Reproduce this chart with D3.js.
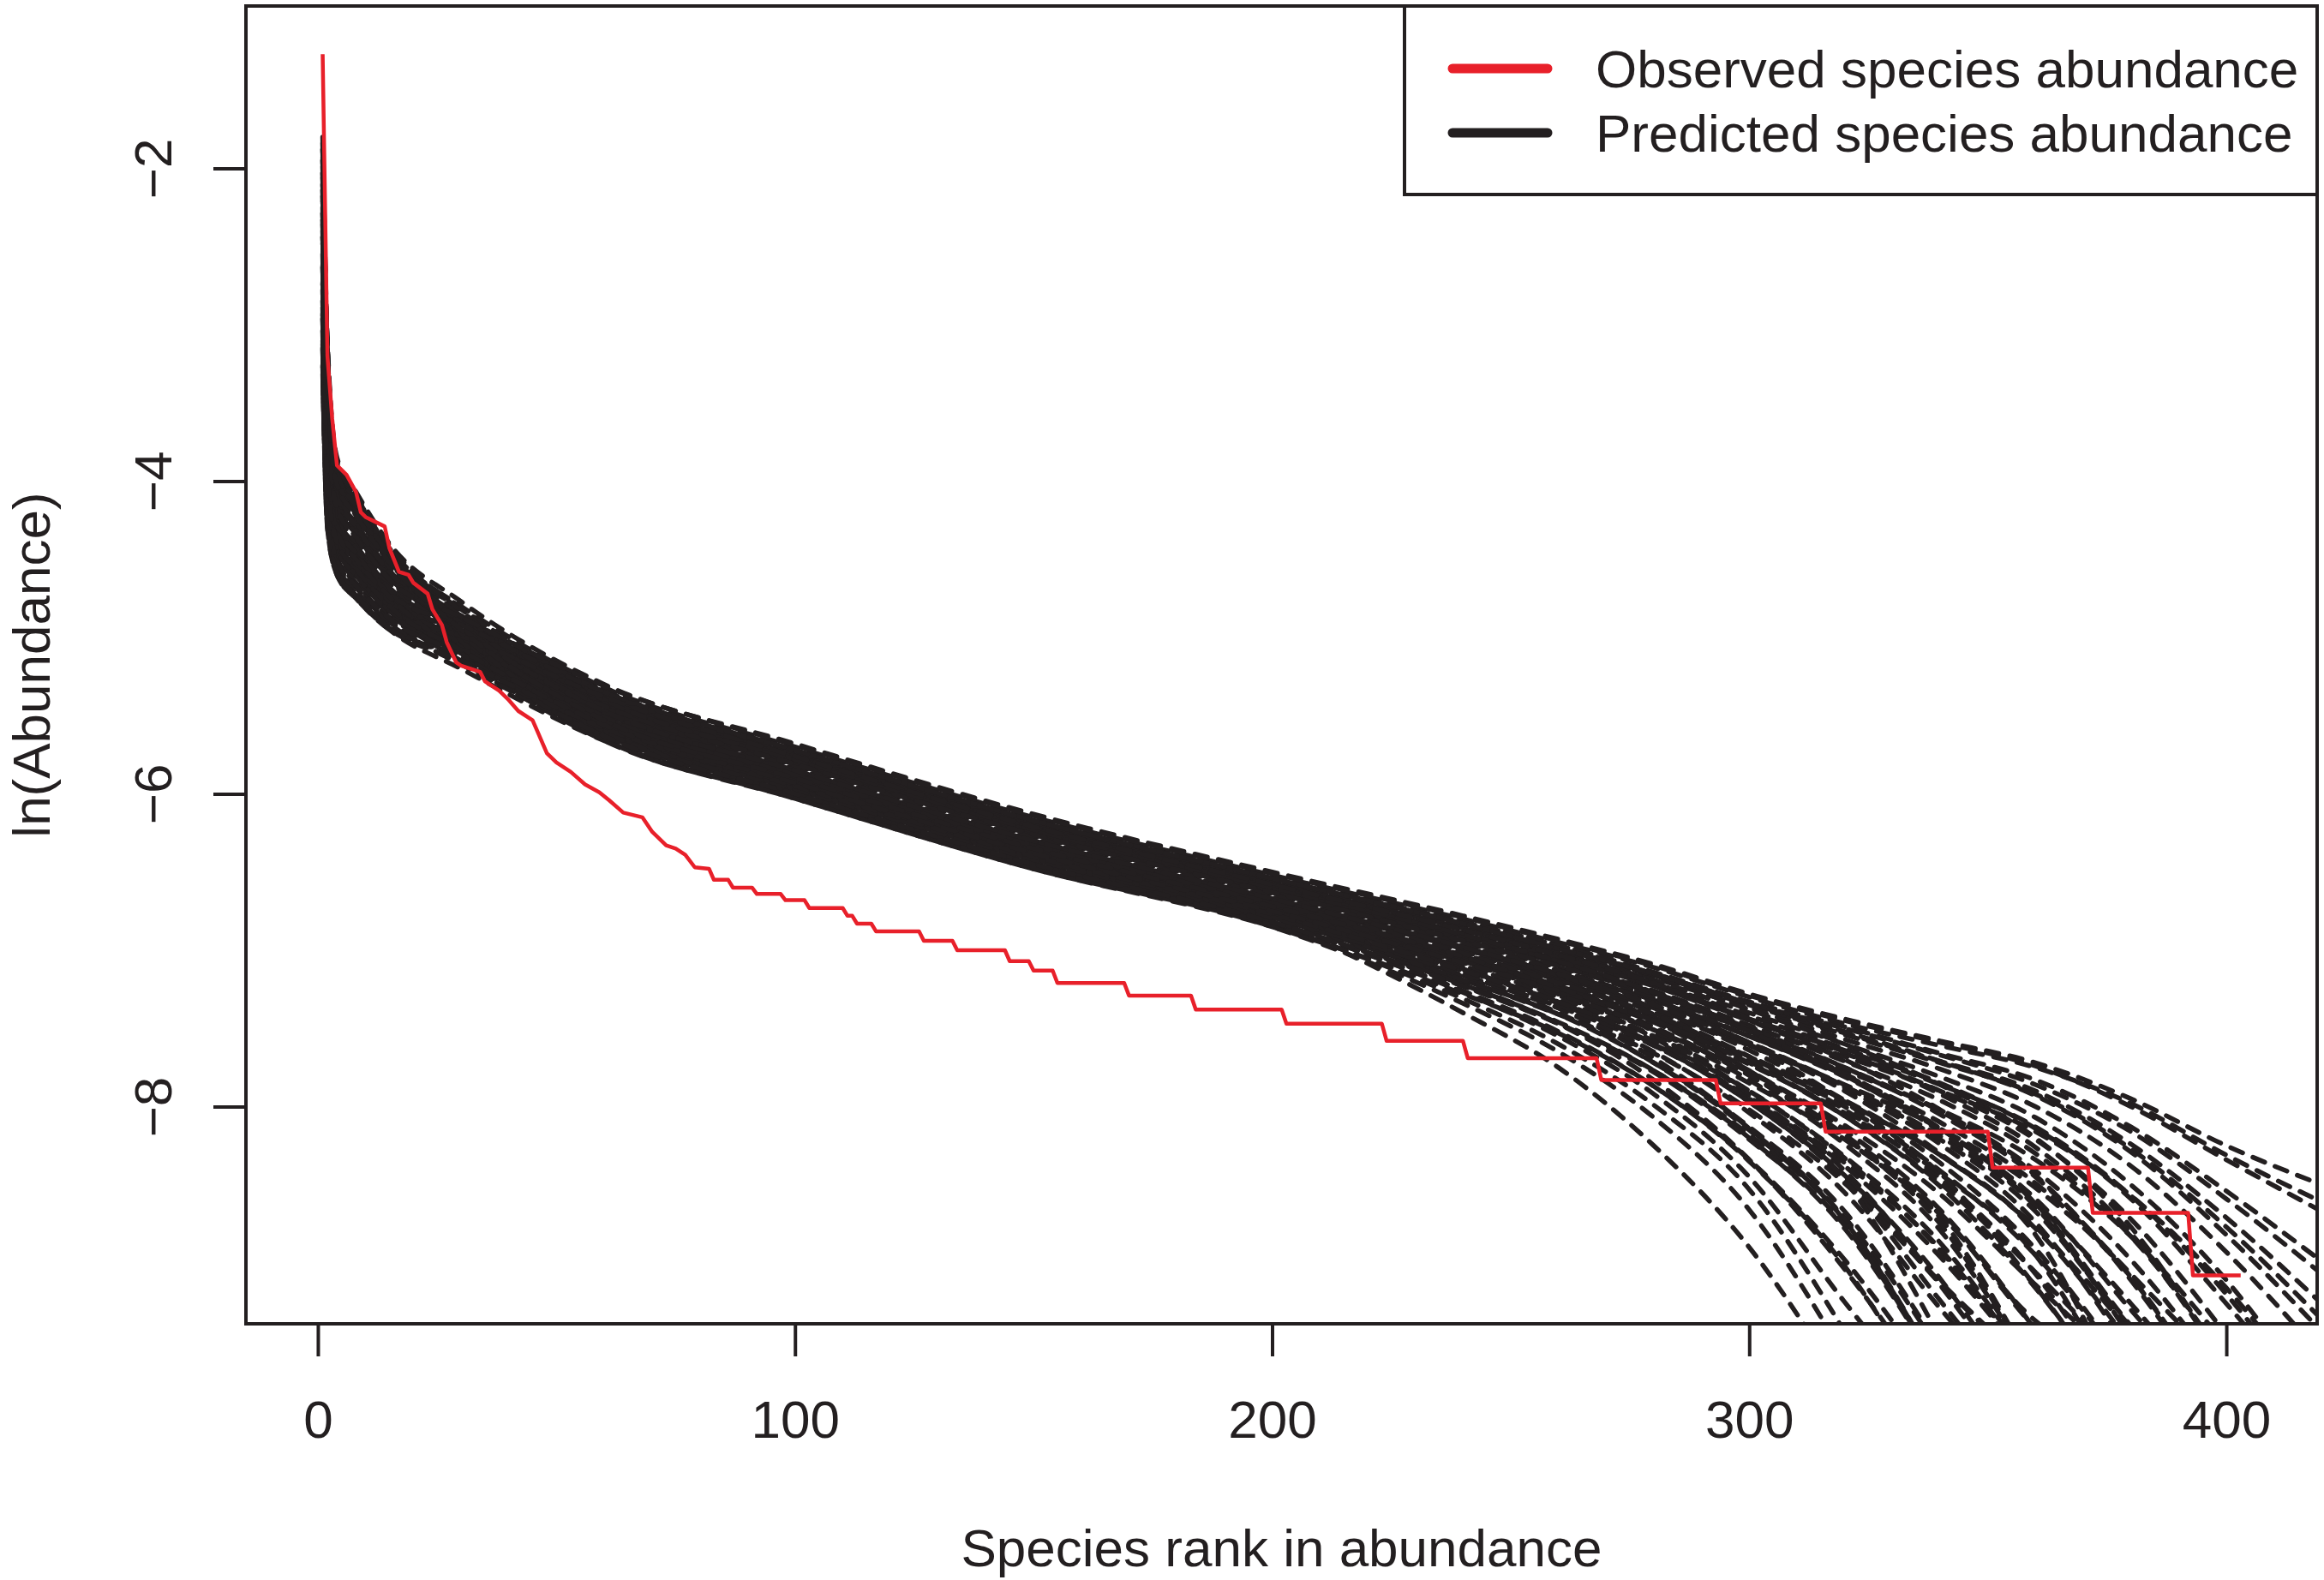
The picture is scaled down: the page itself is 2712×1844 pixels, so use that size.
<!DOCTYPE html>
<html>
<head>
<meta charset="utf-8">
<script src="https://cdn.jsdelivr.net/npm/d3@7"></script>
<style>
    body { margin: 0; background: #fff; }
    text { font-family: "Liberation Sans", Arial, Helvetica, sans-serif; fill: #231f20; }
</style>
</head>
<body>
<div id="chart"></div>
<script>
// ---- data ----
var xTicks = [0, 100, 200, 300, 400];
var yTicks = [-2, -4, -6, -8];
var legendLabels = ["Observed species abundance", "Predicted species abundance"];
var xTitle = "Species rank in abundance";
var yTitle = "ln(Abundance)";

// observed curve (red), vertices of the rank / ln(abundance) line
var obsRank = [1, 2, 3, 4, 5, 6, 8, 9, 10, 14, 15, 17, 19, 20, 23, 24, 26, 27, 29, 30,
    34, 35, 38, 40, 42, 45, 46, 48, 50, 53, 56, 59, 61, 64, 68, 70, 73, 75, 77, 79,
    82, 83, 86, 87, 91, 92, 97, 98, 102, 103, 110, 111, 112, 113, 116, 117, 126, 127, 133, 134,
    144, 145, 149, 150, 154, 155, 169, 170, 183, 184, 202, 203, 223, 224, 240, 241, 268, 269, 293, 294,
    315, 316, 350, 351, 371, 372, 392, 393, 403];
var obsLnAbund = [-1.27, -3.2, -3.6, -3.9, -3.93, -3.96, -4.07, -4.2, -4.23, -4.29, -4.43, -4.58, -4.6, -4.65, -4.72, -4.82, -4.92, -5.03, -5.16, -5.18,
    -5.22, -5.28, -5.34, -5.4, -5.47, -5.53, -5.6, -5.74, -5.8, -5.86, -5.94, -5.99, -6.04, -6.12, -6.15, -6.24, -6.33, -6.35, -6.39, -6.47,
    -6.48, -6.55, -6.55, -6.6, -6.6, -6.64, -6.64, -6.68, -6.68, -6.73, -6.73, -6.78, -6.78, -6.83, -6.83, -6.88, -6.88, -6.94, -6.94, -7.0,
    -7.0, -7.07, -7.07, -7.13, -7.13, -7.21, -7.21, -7.29, -7.29, -7.38, -7.38, -7.47, -7.47, -7.58, -7.58, -7.69, -7.69, -7.83, -7.83, -7.98,
    -7.98, -8.16, -8.16, -8.39, -8.39, -8.68, -8.68, -9.08, -9.08];

// predicted runs (black dashed), each sampled at simRanks; null = run has ended
var simRanks = [1, 2, 4, 8, 15, 30, 60, 100, 150, 200, 240, 260, 280, 300, 320, 340, 360, 380, 400, 420];
var simCurves = [
    [-1.80, -3.10, -3.85, -4.07, -4.40, -4.77, -5.30, -5.68, -6.13, -6.50, -6.78, -6.93, -7.09, -7.28, -7.44, -7.58, -7.72, -7.95, -8.25, -8.50],
    [-1.95, -3.22, -3.93, -4.14, -4.46, -4.80, -5.32, -5.70, -6.15, -6.52, -6.80, -6.95, -7.11, -7.30, -7.47, -7.61, -7.75, -7.98, -8.31, -8.61],
    [-2.25, -3.46, -4.08, -4.27, -4.57, -4.86, -5.34, -5.72, -6.17, -6.54, -6.82, -6.97, -7.14, -7.33, -7.49, -7.66, -7.83, -8.13, -8.54, -8.99],
    [-1.88, -3.16, -3.89, -4.10, -4.43, -4.81, -5.35, -5.73, -6.18, -6.55, -6.84, -7.00, -7.16, -7.35, -7.54, -7.72, -7.92, -8.27, -8.77, -9.36],
    [-2.55, -3.70, -4.23, -4.41, -4.68, -4.92, -5.37, -5.75, -6.20, -6.57, -6.86, -7.02, -7.18, -7.37, -7.57, -7.76, -8.00, -8.38, -8.93, -9.59],
    [-2.10, -3.34, -4.00, -4.21, -4.51, -4.87, -5.39, -5.77, -6.22, -6.59, -6.89, -7.04, -7.21, -7.42, -7.63, -7.85, -8.14, -8.59, -9.26, -10.0],
    [-2.85, -3.94, -4.38, -4.55, -4.79, -4.99, -5.41, -5.79, -6.24, -6.61, -6.91, -7.06, -7.23, -7.44, -7.64, -7.86, -8.13, -8.57, -9.20, -10.0],
    [-2.40, -3.58, -4.15, -4.34, -4.62, -4.88, -5.34, -5.72, -6.17, -6.54, -6.82, -6.97, -7.16, -7.38, -7.60, -7.86, -8.20, -8.77, -9.67, null],
    [-2.03, -3.28, -3.96, -4.17, -4.48, -4.88, -5.43, -5.80, -6.25, -6.62, -6.93, -7.08, -7.26, -7.48, -7.71, -7.96, -8.30, -8.83, -9.63, null],
    [-2.70, -3.82, -4.30, -4.48, -4.73, -4.99, -5.44, -5.82, -6.27, -6.64, -6.95, -7.11, -7.27, -7.49, -7.68, -7.90, -8.16, -8.57, -9.16, -9.93],
    [-3.15, -4.18, -4.53, -4.68, -4.90, -5.06, -5.46, -5.84, -6.29, -6.66, -6.97, -7.13, -7.32, -7.55, -7.80, -8.10, -8.49, -9.09, -10.0, null],
    [-2.18, -3.40, -4.04, -4.24, -4.54, -4.87, -5.37, -5.75, -6.20, -6.57, -6.86, -7.02, -7.21, -7.45, -7.70, -8.02, -8.44, -9.11, -10.0, null],
    [-3.00, -4.06, -4.45, -4.61, -4.84, -5.05, -5.48, -5.86, -6.31, -6.68, -6.99, -7.15, -7.32, -7.55, -7.77, -8.02, -8.34, -8.83, -9.53, null],
    [-2.33, -3.52, -4.11, -4.31, -4.59, -4.91, -5.41, -5.79, -6.24, -6.61, -6.91, -7.07, -7.28, -7.52, -7.79, -8.14, -8.62, -9.40, -10.0, null],
    [-2.48, -3.64, -4.19, -4.38, -4.65, -4.99, -5.50, -5.87, -6.32, -6.69, -7.01, -7.17, -7.37, -7.61, -7.87, -8.19, -8.62, -9.26, -10.0, null],
    [-3.30, -4.30, -4.60, -4.75, -4.95, -5.11, -5.52, -5.89, -6.34, -6.71, -7.03, -7.19, -7.39, -7.61, -7.86, -8.14, -8.52, -9.09, -9.99, null],
    [-2.63, -3.76, -4.26, -4.44, -4.70, -4.97, -5.44, -5.82, -6.27, -6.64, -6.95, -7.13, -7.33, -7.60, -7.90, -8.30, -8.82, -10.0, null, null],
    [-2.78, -3.88, -4.34, -4.51, -4.76, -5.05, -5.53, -5.91, -6.36, -6.73, -7.05, -7.23, -7.43, -7.68, -7.96, -8.31, -8.78, -9.52, null, null],
    [-1.95, -3.22, -3.93, -4.14, -4.46, -4.90, -5.48, -5.86, -6.31, -6.68, -6.99, -7.18, -7.40, -7.68, -8.02, -8.46, -9.07, -10.0, null, null],
    [-2.93, -4.00, -4.41, -4.58, -4.81, -5.08, -5.55, -5.93, -6.38, -6.75, -7.07, -7.25, -7.46, -7.73, -8.04, -8.43, -8.95, -10.0, null, null],
    [-3.08, -4.12, -4.49, -4.65, -4.87, -5.01, -5.39, -5.77, -6.22, -6.59, -6.90, -7.08, -7.31, -7.60, -7.97, -8.43, -9.15, -10.0, null, null],
    [-2.25, -3.46, -4.08, -4.27, -4.57, -4.96, -5.52, -5.89, -6.34, -6.71, -7.04, -7.24, -7.49, -7.80, -8.20, -8.71, -9.70, null, null, null],
    [-3.23, -4.24, -4.56, -4.72, -4.92, -5.14, -5.57, -5.94, -6.39, -6.76, -7.10, -7.29, -7.51, -7.78, -8.12, -8.56, -9.14, -9.70, null, null],
    [-2.55, -3.70, -4.23, -4.41, -4.68, -5.05, -5.59, -5.96, -6.41, -6.78, -7.13, -7.32, -7.55, -7.85, -8.21, -8.69, -9.37, -9.70, null, null],
    [-2.10, -3.34, -4.00, -4.21, -4.51, -4.91, -5.46, -5.84, -6.29, -6.66, -6.99, -7.19, -7.44, -7.77, -8.19, -8.75, -9.70, null, null, null],
    [-2.70, -3.82, -4.30, -4.48, -4.73, -5.08, -5.61, -5.98, -6.43, -6.80, -7.16, -7.36, -7.61, -7.94, -8.36, -8.91, -9.70, null, null, null],
    [-2.40, -3.58, -4.15, -4.34, -4.62, -5.01, -5.55, -5.93, -6.38, -6.75, -7.11, -7.33, -7.60, -7.97, -8.45, -9.13, -9.70, null, null, null],
    [-2.85, -3.94, -4.38, -4.55, -4.79, -5.11, -5.62, -6.00, -6.45, -6.82, -7.19, -7.41, -7.66, -8.02, -8.49, -9.12, -9.70, null, null, null],
    [-3.15, -4.18, -4.53, -4.68, -4.90, -5.08, -5.50, -5.87, -6.32, -6.69, -7.06, -7.28, -7.56, -7.96, -8.47, -9.24, -10.0, null, null, null],
    [-1.88, -3.16, -3.89, -4.10, -4.43, -4.86, -5.43, -5.80, -6.25, -6.62, -6.99, -7.21, -7.51, -7.93, -8.47, -9.48, null, null, null, null],
    [-3.00, -4.06, -4.45, -4.61, -4.84, -5.15, -5.64, -6.01, -6.46, -6.83, -7.23, -7.47, -7.77, -8.18, -8.71, -9.57, null, null, null, null],
    [-2.33, -3.52, -4.11, -4.31, -4.59, -4.99, -5.53, -5.91, -6.36, -6.73, -7.12, -7.37, -7.69, -8.14, -8.72, -9.70, null, null, null, null],
    [-3.30, -4.30, -4.60, -4.75, -4.95, -5.20, -5.66, -6.03, -6.48, -6.85, -7.28, -7.53, -7.87, -8.34, -8.98, -9.80, null, null, null, null],
    [-2.63, -3.76, -4.26, -4.44, -4.70, -5.06, -5.59, -5.96, -6.41, -6.78, -7.21, -7.47, -7.83, -8.34, -9.04, -9.90, null, null, null, null],
    [-2.78, -3.88, -4.34, -4.51, -4.76, -5.12, -5.66, -6.03, -6.48, -6.85, -7.34, -7.65, -8.07, -8.66, -9.60, null, null, null, null, null],
    [-3.23, -4.24, -4.56, -4.72, -4.92, -5.17, -5.62, -6.00, -6.45, -6.82, -7.40, -7.75, -8.25, -8.90, -9.80, null, null, null, null, null],
    [-2.03, -3.28, -3.96, -4.17, -4.48, -4.96, -5.57, -5.94, -6.39, -6.76, -7.17, -7.40, -7.72, -8.15, -8.73, -9.70, null, null, null, null],
    [-2.48, -3.64, -4.19, -4.38, -4.65, -4.90, -5.35, -5.73, -6.18, -6.55, -6.84, -7.00, -7.16, -7.35, -7.53, -7.71, -7.90, -8.24, -8.71, -9.26],
    [-2.93, -4.00, -4.41, -4.58, -4.81, -5.04, -5.48, -5.86, -6.31, -6.68, -7.04, -7.25, -7.52, -7.92, -8.41, -9.14, -10.0, null, null, null],
    [-2.18, -3.40, -4.04, -4.24, -4.54, -5.02, -5.62, -6.00, -6.45, -6.82, -7.27, -7.55, -7.92, -8.45, -9.25, -10.0, null, null, null, null],
    [-1.99, -3.25, -3.94, -4.16, -4.47, -4.82, -5.35, -5.72, -6.17, -6.54, -6.83, -6.99, -7.15, -7.34, -7.50, -7.67, -7.86, -8.16, -8.59, -9.07],
    [-2.36, -3.55, -4.13, -4.33, -4.61, -4.90, -5.38, -5.76, -6.21, -6.58, -6.87, -7.03, -7.19, -7.40, -7.60, -7.81, -8.07, -8.50, -9.11, -9.93],
    [-2.74, -3.85, -4.32, -4.50, -4.74, -4.96, -5.40, -5.78, -6.23, -6.60, -6.90, -7.05, -7.23, -7.45, -7.66, -7.90, -8.21, -8.72, -9.46, null],
    [-3.11, -4.15, -4.51, -4.67, -4.88, -5.03, -5.42, -5.79, -6.24, -6.61, -6.92, -7.07, -7.27, -7.50, -7.75, -8.05, -8.45, -9.07, -9.70, null],
    [-2.14, -3.37, -4.02, -4.22, -4.52, -4.90, -5.44, -5.81, -6.26, -6.63, -6.94, -7.10, -7.30, -7.55, -7.81, -8.14, -8.59, -9.30, -10.0, null],
    [-2.51, -3.67, -4.21, -4.39, -4.66, -4.96, -5.45, -5.83, -6.28, -6.65, -6.96, -7.13, -7.34, -7.59, -7.88, -8.24, -8.74, -9.58, null, null],
    [-2.89, -3.97, -4.39, -4.56, -4.80, -5.03, -5.47, -5.85, -6.30, -6.67, -6.98, -7.16, -7.37, -7.64, -7.96, -8.36, -8.91, -9.70, null, null],
    [-3.26, -4.27, -4.58, -4.73, -4.94, -5.09, -5.49, -5.86, -6.31, -6.68, -7.01, -7.20, -7.42, -7.71, -8.06, -8.51, -9.16, -10.0, null, null],
    [-1.91, -3.19, -3.91, -4.12, -4.44, -4.91, -5.51, -5.88, -6.33, -6.70, -7.04, -7.23, -7.46, -7.77, -8.15, -8.66, -9.43, null, null, null],
    [-2.29, -3.49, -4.09, -4.29, -4.58, -4.97, -5.53, -5.90, -6.35, -6.72, -7.06, -7.27, -7.51, -7.83, -8.24, -8.79, -9.70, null, null, null],
    [-2.66, -3.79, -4.28, -4.46, -4.72, -5.04, -5.54, -5.92, -6.37, -6.74, -7.09, -7.30, -7.55, -7.90, -8.33, -8.92, -9.70, null, null, null],
    [-3.04, -4.09, -4.47, -4.63, -4.85, -5.10, -5.56, -5.93, -6.38, -6.75, -7.12, -7.34, -7.60, -7.97, -8.44, -9.10, -10.0, null, null, null],
    [-2.21, -3.43, -4.06, -4.26, -4.55, -5.00, -5.58, -5.95, -6.40, -6.77, -7.16, -7.37, -7.65, -8.04, -8.55, -9.29, -10.0, null, null, null],
    [-2.59, -3.73, -4.24, -4.43, -4.69, -5.06, -5.60, -5.97, -6.42, -6.79, -7.19, -7.41, -7.72, -8.13, -8.67, -9.55, null, null, null, null],
    [-2.96, -4.03, -4.43, -4.60, -4.83, -5.13, -5.62, -5.99, -6.44, -6.81, -7.22, -7.46, -7.77, -8.20, -8.78, -9.70, null, null, null, null],
    [-3.19, -4.21, -4.54, -4.70, -4.91, -5.17, -5.63, -6.00, -6.45, -6.82, -7.26, -7.52, -7.87, -8.35, -9.02, -10.0, null, null, null, null],
    [-2.06, -3.31, -3.98, -4.19, -4.50, -5.02, -5.65, -6.02, -6.47, -6.84, -7.31, -7.60, -7.99, -8.53, -9.44, null, null, null, null, null],
    [-2.44, -3.61, -4.17, -4.36, -4.63, -4.99, -5.51, -5.88, -6.33, -6.70, -7.02, -7.21, -7.41, -7.69, -8.00, -8.41, -8.95, -9.70, null, null],
    [-2.81, -3.91, -4.36, -4.53, -4.77, -5.00, -5.44, -5.81, -6.26, -6.63, -6.94, -7.10, -7.28, -7.51, -7.75, -8.03, -8.41, -8.98, -9.75, null],
    [-1.84, -3.13, -3.87, -4.09, -4.41, -4.83, -5.40, -5.78, -6.23, -6.60, -6.90, -7.07, -7.27, -7.52, -7.80, -8.16, -8.64, -9.48, null, null],
    [-2.66, -3.79, -4.28, -4.46, -4.72, -4.92, -5.35, -5.72, -6.17, -6.54, -6.83, -6.99, -7.15, -7.34, -7.52, -7.71, -7.93, -8.29, -8.82, -9.44],
    [-2.96, -4.03, -4.43, -4.60, -4.83, -4.99, -5.38, -5.76, -6.21, -6.58, -6.87, -7.03, -7.21, -7.44, -7.65, -7.92, -8.26, -8.81, -9.67, null],
    [-2.29, -3.49, -4.09, -4.29, -4.58, -4.94, -5.47, -5.85, -6.30, -6.67, -6.98, -7.15, -7.35, -7.59, -7.87, -8.21, -8.67, -9.41, -10.0, null],
    [-3.11, -4.15, -4.51, -4.67, -4.88, -5.10, -5.54, -5.92, -6.37, -6.74, -7.07, -7.28, -7.50, -7.80, -8.18, -8.68, -9.42, -10.0, null, null],
    [-1.99, -3.25, -3.94, -4.16, -4.47, -4.97, -5.60, -5.97, -6.42, -6.79, -7.15, -7.35, -7.61, -7.95, -8.38, -8.96, -9.70, null, null, null],
    [-2.74, -3.85, -4.32, -4.50, -4.74, -5.10, -5.63, -6.00, -6.45, -6.82, -7.23, -7.47, -7.78, -8.21, -8.76, -9.70, null, null, null, null],
    [-3.26, -4.27, -4.58, -4.73, -4.94, -5.15, -5.58, -5.95, -6.40, -6.77, -7.13, -7.33, -7.58, -7.90, -8.32, -8.87, -9.70, null, null, null],
    [-2.44, -3.61, -4.17, -4.36, -4.63, -4.87, -5.31, -5.69, -6.14, -6.51, -6.79, -6.94, -7.10, -7.29, -7.45, -7.59, -7.74, -8.00, -8.34, -8.67],
    [-2.89, -3.97, -4.39, -4.56, -4.80, -5.08, -5.56, -5.93, -6.38, -6.75, -7.08, -7.26, -7.45, -7.70, -7.97, -8.31, -8.77, -9.45, null, null],
    [-2.14, -3.37, -4.02, -4.22, -4.52, -4.95, -5.53, -5.90, -6.35, -6.72, -7.04, -7.24, -7.45, -7.72, -8.06, -8.49, -9.06, -9.70, null, null]
];

// ---- drawing ----
var W = 2712, H = 1844;
var plot = { left: 287, right: 2704, top: 7, bottom: 1545 };
var ink = "#231f20", red = "#e8202a";
var fontSize = 62;

var svg = d3.select("#chart").append("svg")
    .attr("width", W)
    .attr("height", H)
    .style("display", "block")
    .style("background", "#fff");

// R style axis limits (4% padding around the data)
var x = d3.scaleLinear().domain([-15.08, 419.03]).range([plot.left, plot.right]);
var y = d3.scaleLinear().domain([-9.389, -0.962]).range([plot.bottom, plot.top]);

svg.append("clipPath").attr("id", "plot-clip")
    .append("rect")
    .attr("x", plot.left).attr("y", plot.top)
    .attr("width", plot.right - plot.left).attr("height", plot.bottom - plot.top);

var lines = svg.append("g").attr("clip-path", "url(#plot-clip)");

// predicted runs
var simLine = d3.line()
    .defined(function (d) { return d[1] !== null; })
    .x(function (d) { return x(d[0]); })
    .y(function (d) { return y(d[1]); })
    .curve(d3.curveMonotoneX);

lines.selectAll(".sim")
    .data(simCurves)
    .enter().append("path")
    .attr("class", "sim")
    .attr("fill", "none")
    .attr("stroke", ink)
    .attr("stroke-width", 5.5)
    .attr("stroke-dasharray", "15,13")
    // shift the dash phase so runs that lie on top of each other do not line up
    .attr("stroke-dashoffset", function (d, i) { return (i * 11) % 28; })
    .attr("stroke-linecap", "round")
    .attr("d", function (vals) {
        return simLine(vals.map(function (v, i) { return [simRanks[i], v]; }));
    });

// observed
var obsLine = d3.line()
    .x(function (d) { return x(d[0]); })
    .y(function (d) { return y(d[1]); });

lines.append("path")
    .datum(obsRank.map(function (r, i) { return [r, obsLnAbund[i]]; }))
    .attr("fill", "none")
    .attr("stroke", red)
    .attr("stroke-width", 4.5)
    .attr("stroke-linejoin", "round")
    .attr("d", obsLine);

// box
svg.append("rect")
    .attr("x", plot.left).attr("y", plot.top)
    .attr("width", plot.right - plot.left).attr("height", plot.bottom - plot.top)
    .attr("fill", "none")
    .attr("stroke", ink)
    .attr("stroke-width", 4);

// x axis
var xAxis = d3.axisBottom(x).tickValues(xTicks).tickSize(38).tickPadding(51);
var gx = svg.append("g")
    .attr("transform", "translate(0," + plot.bottom + ")")
    .call(xAxis);
gx.select(".domain").remove();
gx.selectAll("line").attr("stroke", ink).attr("stroke-width", 4);
gx.selectAll("text")
    .attr("font-size", fontSize)
    .attr("font-family", "Liberation Sans, Arial, sans-serif")
    .attr("fill", ink);

// y axis, labels turned like R's las = 0
var yAxis = d3.axisLeft(y).tickValues(yTicks).tickSize(38).tickFormat(function (d) { return "\u2212" + Math.abs(d); });
var gy = svg.append("g")
    .attr("transform", "translate(" + plot.left + ",0)")
    .call(yAxis);
gy.select(".domain").remove();
gy.selectAll("line").attr("stroke", ink).attr("stroke-width", 4);
gy.selectAll("text")
    .attr("x", null)
    .attr("dy", null)
    .attr("text-anchor", "middle")
    .attr("transform", "translate(-87,0) rotate(-90)")
    .attr("font-size", fontSize)
    .attr("font-family", "Liberation Sans, Arial, sans-serif")
    .attr("fill", ink);

// axis titles
svg.append("text")
    .attr("x", (plot.left + plot.right) / 2)
    .attr("y", 1828)
    .attr("text-anchor", "middle")
    .attr("font-size", fontSize)
    .text(xTitle);

svg.append("text")
    .attr("transform", "translate(58," + ((plot.top + plot.bottom) / 2) + ") rotate(-90)")
    .attr("text-anchor", "middle")
    .attr("font-size", fontSize)
    .text(yTitle);

// legend
var legend = svg.append("g");
legend.append("rect")
    .attr("x", 1639).attr("y", plot.top)
    .attr("width", plot.right - 1639).attr("height", 227 - plot.top)
    .attr("fill", "#fff")
    .attr("stroke", ink)
    .attr("stroke-width", 4);

var legendColors = [red, ink];
var legendRows = legend.selectAll(".row")
    .data(legendLabels)
    .enter().append("g")
    .attr("class", "row")
    .attr("transform", function (d, i) { return "translate(0," + (80 + i * 75) + ")"; });

legendRows.append("line")
    .attr("x1", 1695).attr("x2", 1806)
    .attr("y1", 0).attr("y2", 0)
    .attr("stroke", function (d, i) { return legendColors[i]; })
    .attr("stroke-width", 11)
    .attr("stroke-linecap", "round");

legendRows.append("text")
    .attr("x", 1862)
    .attr("y", 0)
    .attr("dy", "0.36em")
    .attr("font-size", fontSize)
    .text(function (d) { return d; });
</script>
</body>
</html>
